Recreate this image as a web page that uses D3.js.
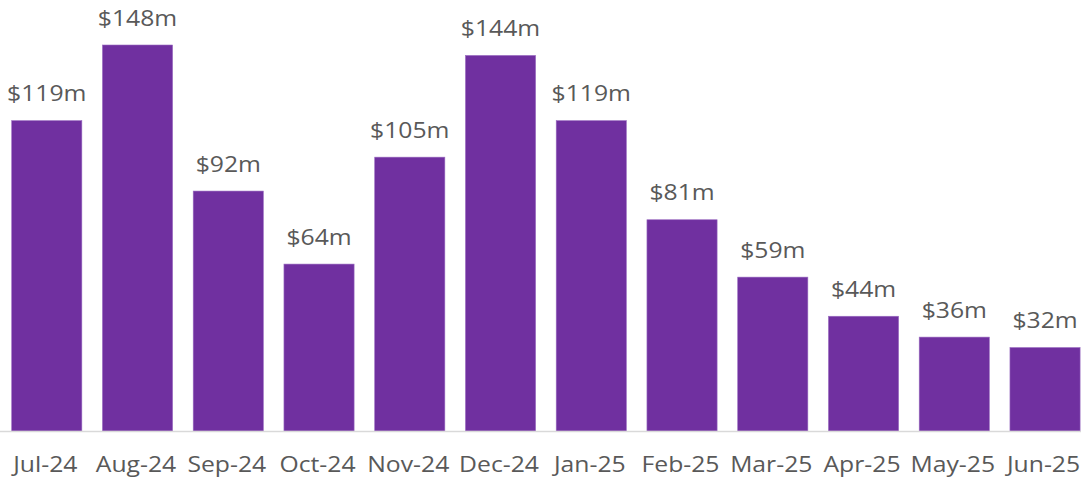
<!DOCTYPE html>
<html><head><meta charset="utf-8">
<script src="https://cdn.jsdelivr.net/npm/d3@7"></script>
<style>
html,body{margin:0;padding:0;background:#fff;}
svg{display:block;}
text{font-family:"Open Sans",sans-serif;fill:#595959;}
</style></head>
<body>
<svg id="chart" width="1081" height="480"></svg>
<script>
const categories = ["Jul-24","Aug-24","Sep-24","Oct-24","Nov-24","Dec-24","Jan-25","Feb-25","Mar-25","Apr-25","May-25","Jun-25"];
const values = [119,148,92,64,105,144,119,81,59,44,36,32];
const valueLabels = ["$119m","$148m","$92m","$64m","$105m","$144m","$119m","$81m","$59m","$44m","$36m","$32m"];

const svg = d3.select("#chart");
const baseY = 431;
const x = d3.scaleBand().domain(categories).range([1.4, 1090.4]).paddingInner(0.227).paddingOuter(0.1135);
const y = d3.scaleLinear().domain([0, 148]).range([baseY, 45]);
const sx = 1.15, fs = 21.5;

svg.selectAll("rect.bar").data(values).join("rect")
  .attr("class","bar")
  .attr("x",(d,i)=>x(categories[i]))
  .attr("width",x.bandwidth())
  .attr("y",d=>y(d))
  .attr("height",d=>baseY - y(d))
  .attr("fill","#7030a0")
  .attr("stroke","#9a6cc0").attr("stroke-width",0.6);

svg.append("line").attr("x1",0).attr("x2",1081).attr("y1",baseY+0.5).attr("y2",baseY+0.5)
  .attr("stroke","#d9d9d9").attr("stroke-width",1.5);

svg.selectAll("text.val").data(values).join("text")
  .attr("class","val")
  .attr("text-anchor","middle")
  .attr("font-size",fs)
  .attr("transform",(d,i)=>`translate(${x(categories[i])+x.bandwidth()/2},${y(d)-19.5}) scale(${sx},1)`)
  .text((d,i)=>valueLabels[i]);

svg.selectAll("text.cat").data(categories).join("text")
  .attr("class","cat")
  .attr("text-anchor","middle")
  .attr("font-size",fs)
  .attr("transform",d=>`translate(${x(d)+x.bandwidth()/2 - 1.5},${471.5}) scale(${sx},1)`)
  .text(d=>d);
</script>
</body></html>
